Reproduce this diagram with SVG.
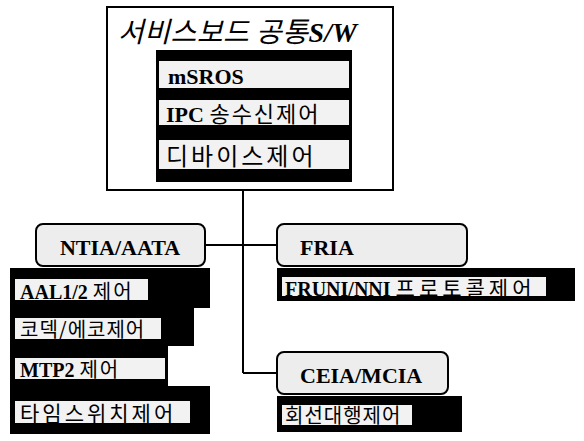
<svg xmlns="http://www.w3.org/2000/svg" width="584" height="441" viewBox="0 0 584 441">
<style>
.en{font-family:"Liberation Serif",serif;font-weight:bold;fill:#000}
.ko{font-family:"Noto Sans CJK KR",sans-serif;fill:#000}
.blk{fill:#000}
.bar{fill:#f2f2f2}
.node{fill:#ededed;stroke:#000;stroke-width:2}
.wire{stroke:#000;stroke-width:2;fill:none}
</style>
<rect width="584" height="441" fill="#fff"/>
<g id="connectors">
<path class="wire" d="M243 182 V373 M205 245 H277 M243 373 H277"/>
</g>
<g id="service-board">
<rect x="107" y="7" width="286" height="183" fill="#fff" stroke="#000" stroke-width="2"/>
<text x="118" y="42" font-size="28" font-style="italic"><tspan class="ko" letter-spacing="0.5">서비스보드 공통</tspan><tspan class="en">S/W</tspan></text>
<rect class="blk" x="156" y="50" width="196" height="132"/>
<rect class="bar" x="159" y="61" width="190" height="27"/>
<rect class="bar" x="159" y="100" width="190" height="25"/>
<rect class="bar" x="159" y="140" width="190" height="29"/>
<text class="en" x="168" y="84" font-size="22">mSROS</text>
<text x="166" y="122" font-size="22"><tspan class="en">IPC </tspan><tspan class="ko" font-size="22" letter-spacing="2">송수신제어</tspan></text>
<text class="ko" x="166" y="165" font-size="24" letter-spacing="3">디바이스제어</text>
</g>
<g id="ntia">
<rect class="node" x="36" y="224" width="169" height="42" rx="7"/>
<text class="en" x="120" y="255" font-size="22" text-anchor="middle">NTIA/AATA</text>
<rect class="blk" x="10" y="268" width="200" height="40"/>
<rect class="blk" x="10" y="306" width="184" height="40"/>
<rect class="blk" x="10" y="344" width="158" height="44"/>
<rect class="blk" x="10" y="386" width="200" height="48"/>
<rect class="bar" x="15" y="279" width="133" height="21"/>
<rect class="bar" x="15" y="318" width="146" height="21"/>
<rect class="bar" x="15" y="358" width="150" height="21"/>
<rect class="bar" x="15" y="401" width="175" height="22"/>
<text x="20" y="299" font-size="20"><tspan class="en">AAL1/2 </tspan><tspan class="ko" font-size="20" letter-spacing="2">제어</tspan></text>
<text class="ko" x="20" y="337" font-size="20" letter-spacing="1">코덱/에코제어</text>
<text x="20" y="377" font-size="20"><tspan class="en">MTP2 </tspan><tspan class="ko" font-size="20" letter-spacing="2">제어</tspan></text>
<text class="ko" x="20" y="421" font-size="21" letter-spacing="3">타임스위치제어</text>
</g>
<g id="fria">
<rect class="node" x="277" y="224" width="190" height="42" rx="7"/>
<text class="en" x="300" y="255" font-size="22">FRIA</text>
<rect class="blk" x="277" y="268" width="298" height="33"/>
<rect class="bar" x="282" y="277" width="264" height="19"/>
<text x="285" y="296" font-size="20"><tspan class="en">FRUNI/NNI </tspan><tspan class="ko" font-size="21" letter-spacing="4">프로토콜제어</tspan></text>
</g>
<g id="ceia">
<rect class="node" x="277" y="352" width="171" height="42" rx="7"/>
<text class="en" x="300" y="383" font-size="22">CEIA/MCIA</text>
<rect class="blk" x="277" y="396" width="185" height="36"/>
<rect class="bar" x="282" y="405" width="130" height="20"/>
<text class="ko" x="285" y="423" font-size="20" letter-spacing="1">회선대행제어</text>
</g>
</svg>
